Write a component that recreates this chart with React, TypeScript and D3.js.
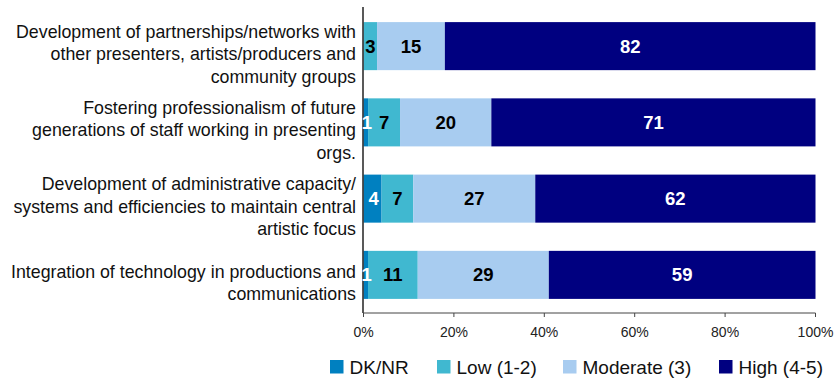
import React from "react";
import * as d3 from "d3";

const categories: string[][] = [
  ["Development of partnerships/networks with", "other presenters, artists/producers and", "community groups"],
  ["Fostering professionalism of future", "generations of staff working in presenting", "orgs."],
  ["Development of administrative capacity/", "systems and efficiencies to maintain central", "artistic focus"],
  ["Integration of technology in productions and", "communications"],
];
const seriesNames = ["DK/NR", "Low (1-2)", "Moderate (3)", "High (4-5)"];
const dknr = [0, 1, 4, 1];
const low = [3, 7, 7, 11];
const moderate = [15, 20, 27, 29];
const high = [82, 71, 62, 59];
const tickValues = [0, 0.2, 0.4, 0.6, 0.8, 1];

const colors = ["#0080C0", "#40B8D0", "#A8CCF0", "#000080"];
const labelColors = ["#ffffff", "#000000", "#000000", "#ffffff"];

const W = 837;
const H = 379;
const FONT = "'Liberation Sans', Arial, sans-serif";

export default function App() {
  const series = [dknr, low, moderate, high];
  const rows = categories.map((_, i) => {
    const vals = series.map((s) => s[i]);
    const total = d3.sum(vals);
    let acc = 0;
    return vals.map((v, k) => {
      const x0 = acc / total;
      acc += v;
      return { v, x0, x1: acc / total, k };
    });
  });

  const x = d3.scaleLinear().domain([0, 1]).range([363.5, 815.5]);
  const y = d3
    .scaleBand<number>()
    .domain(categories.map((_, i) => i))
    .range([8, 313])
    .paddingInner(0.37)
    .paddingOuter(0.185);

  const lh = 22.5;
  const legendX = [330, 437, 563, 719];

  return (
    <svg width={W} height={H} style={{ position: "absolute", left: 0, top: 0 }} fontFamily={FONT}>
      <rect width={W} height={H} fill="#fff" />
      {rows.map((segs, i) => (
        <g key={i}>
          {segs.map((s) =>
            s.v > 0 ? (
              <rect
                key={s.k}
                x={x(s.x0)}
                y={y(i)!}
                width={x(s.x1) - x(s.x0)}
                height={y.bandwidth()}
                fill={colors[s.k]}
              />
            ) : null
          )}
        </g>
      ))}
      {/* axes */}
      <line x1={363} x2={363} y1={7} y2={313} stroke="#222" strokeWidth={1.5} />
      <line x1={363} x2={815.5} y1={313} y2={313} stroke="#444" strokeWidth={1} />
      {tickValues.map((t) => (
        <g key={t}>
          <line x1={x(t)} x2={x(t)} y1={313} y2={317} stroke="#444" strokeWidth={1} />
          <text x={x(t)} y={337} textAnchor="middle" fontSize={14} fill="#222">
            {d3.format(".0%")(t)}
          </text>
        </g>
      ))}
      {/* value labels */}
      {rows.map((segs, i) =>
        segs.map((s) =>
          s.v > 0 ? (
            <text
              key={`${i}-${s.k}`}
              x={(x(s.x0) + x(s.x1)) / 2 + (s.k === 0 ? 1 : 0)}
              y={y(i)! + y.bandwidth() / 2 + 6.5}
              textAnchor="middle"
              fontSize={18.5}
              fontWeight="bold"
              fill={labelColors[s.k]}
            >
              {s.v}
            </text>
          ) : null
        )
      )}
      {/* category labels */}
      {categories.map((lines, i) => {
        const c = y(i)! + y.bandwidth() / 2;
        const b0 = c - ((lines.length - 1) * lh) / 2 + 14;
        return (
          <text key={i} textAnchor="end" fontSize={17.8} fill="#111">
            {lines.map((ln, j) => (
              <tspan key={j} x={356} y={b0 + j * lh}>
                {ln}
              </tspan>
            ))}
          </text>
        );
      })}
      {/* legend */}
      {seriesNames.map((n, k) => (
        <g key={n}>
          <rect x={legendX[k]} y={360} width={13.5} height={13.5} fill={colors[k]} />
          <text x={legendX[k] + 19.5} y={373.5} fontSize={19} fill="#111">
            {n}
          </text>
        </g>
      ))}
    </svg>
  );
}
